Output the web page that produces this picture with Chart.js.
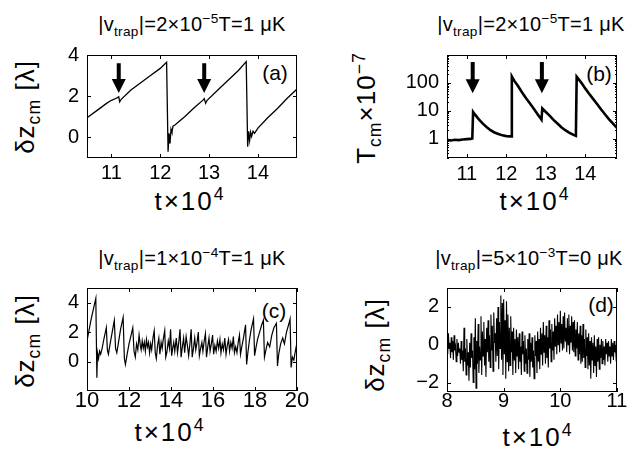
<!DOCTYPE html>
<html>
<head>
<meta charset="utf-8">
<script src="https://cdn.jsdelivr.net/npm/chart.js@4.4.1/dist/chart.umd.min.js"></script>
<style>
body { margin:0; background:#fff; width:633px; height:454px; position:relative; overflow:hidden; font-family:"Liberation Sans", Arial, sans-serif; }
.box { position:absolute; }
.lbl { position:absolute; transform:translate(-50%,-50%); white-space:nowrap; color:#000; line-height:1; }
.ttl { font-size:20px; letter-spacing:0.3px; }
.xl { font-size:26px; letter-spacing:2px; }
.yl { font-size:26px; letter-spacing:1px; }
.rot { transform:translate(-50%,-50%) rotate(-90deg); }
sub, sup { font-size:68%; line-height:0; }
</style>
</head>
<body>

<div class="lbl ttl" style="left:192px;top:24px">|v<sub>trap</sub>|=2×10<sup>−5</sup>T=1 μK</div>
<div class="lbl ttl" style="left:531px;top:24px">|v<sub>trap</sub>|=2×10<sup>−5</sup>T=1 μK</div>
<div class="lbl ttl" style="left:192px;top:258px">|v<sub>trap</sub>|=1×10<sup>−4</sup>T=1 μK</div>
<div class="lbl ttl" style="left:529px;top:258px">|v<sub>trap</sub>|=5×10<sup>−3</sup>T=0 μK</div>

<div class="lbl xl" style="left:190px;top:201px">t×10<sup>4</sup></div>
<div class="lbl xl" style="left:535px;top:201px">t×10<sup>4</sup></div>
<div class="lbl xl" style="left:170px;top:432px">t×10<sup>4</sup></div>
<div class="lbl xl" style="left:538px;top:437px">t×10<sup>4</sup></div>

<div class="lbl yl rot" style="left:25px;top:107px">δz<sub>cm</sub> [λ]</div>
<div class="lbl yl rot" style="left:366px;top:108px">T<sub>cm</sub>×10<sup>−7</sup></div>
<div class="lbl yl rot" style="left:25px;top:341px">δz<sub>cm</sub> [λ]</div>
<div class="lbl yl rot" style="left:375px;top:345px">δz<sub>cm</sub> [λ]</div>

<div class="lbl" style="left:275px;top:72px;font-size:21px">(a)</div>
<div class="lbl" style="left:599px;top:73px;font-size:21px">(b)</div>
<div class="lbl" style="left:274px;top:310px;font-size:21px">(c)</div>
<div class="lbl" style="left:601px;top:304px;font-size:21px">(d)</div>

<script>
// (a) displacement, t in units of 1e4
var aT = [10.5, 10.7, 10.9, 11.0, 11.1, 11.15, 11.17, 11.2, 11.4, 11.6, 11.8, 12.0, 12.13,
          12.16, 12.18, 12.2, 12.22, 12.24, 12.26, 12.3, 12.5, 12.7, 12.88, 12.9, 12.93, 12.96,
          13.2, 13.4, 13.6, 13.76, 13.79, 13.81, 13.83, 13.85, 13.87, 13.9, 13.93, 14.0,
          14.2, 14.4, 14.6, 14.8];
var aZ = [0.95, 1.3, 1.65, 1.8, 1.9, 1.97, 1.72, 1.85, 2.3, 2.65, 3.0, 3.35, 3.65,
          -0.7, 0.2, -0.3, 0.4, 0.25, 0.55, 0.6, 1.0, 1.45, 1.82, 1.88, 1.66, 1.8,
          2.35, 2.8, 3.25, 3.68, -0.45, 0.3, -0.15, 0.25, 0.05, 0.3, 0.2, 0.45,
          0.95, 1.4, 1.9, 2.35];

// (b) T_cm x 1e-7, log axis
var bT = [10.5, 10.6, 10.7, 10.8, 10.9, 11.0, 11.1, 11.14, 11.16, 11.2, 11.3, 11.4, 11.5, 11.6,
          11.7, 11.8, 11.9, 12.0, 12.12, 12.14, 12.2, 12.3, 12.4, 12.5, 12.6, 12.7, 12.8, 12.89,
          12.91, 13.0, 13.1, 13.2, 13.3, 13.4, 13.5, 13.6, 13.7, 13.76, 13.78, 13.9, 14.0, 14.1,
          14.2, 14.3, 14.4, 14.5, 14.6, 14.7, 14.8];
var bTemp = [0.9, 0.85, 0.9, 0.88, 0.92, 0.95, 0.97, 1.0, 9, 7.5, 5, 3.5, 2.6, 2.0,
             1.65, 1.45, 1.3, 1.22, 1.2, 170, 120, 75, 45, 28, 18, 11.5, 7.2, 4.8,
             12, 9, 6.5, 4.6, 3.4, 2.5, 1.95, 1.6, 1.35, 1.25, 165, 100, 62, 40,
             26, 17, 11, 7.3, 4.9, 3.4, 2.4];

// (c)
var cT = [10.0, 10.2, 10.42, 10.47, 10.5, 10.55, 10.6, 10.65, 10.72, 10.8, 10.92, 10.97, 11.02,
          11.1, 11.2, 11.3, 11.36, 11.42, 11.5, 11.6, 11.72, 11.78, 11.83, 11.9, 12.0, 12.1,
          12.18, 12.24, 12.3, 12.36, 12.42, 12.48, 12.54, 12.58, 12.63, 12.68, 12.73, 12.78,
          12.83, 12.88, 12.93, 12.98, 13.03, 13.08, 13.14, 13.2, 13.25, 13.3, 13.36, 13.42,
          13.47, 13.53, 13.58, 13.63, 13.7, 13.75, 13.8, 13.87, 13.93, 13.98, 14.03, 14.08,
          14.13, 14.18, 14.25, 14.31, 14.37, 14.43, 14.48, 14.54, 14.6, 14.65, 14.72, 14.78,
          14.84, 14.9, 14.96, 15.01, 15.07, 15.13, 15.18, 15.24, 15.3, 15.35, 15.41, 15.47,
          15.52, 15.58, 15.64, 15.69, 15.75, 15.81, 15.86, 15.92, 15.98, 16.03, 16.09, 16.15,
          16.21, 16.27, 16.33, 16.38, 16.44, 16.5, 16.56, 16.62, 16.68, 16.74, 16.79, 16.85,
          16.91, 16.97, 17.02, 17.08, 17.14, 17.2, 17.26, 17.31, 17.37, 17.45, 17.55, 17.6,
          17.66, 17.74, 17.82, 17.93, 17.98, 18.04, 18.12, 18.22, 18.32, 18.4, 18.45, 18.52,
          18.6, 18.7, 18.8, 18.9, 19.02, 19.07, 19.13, 19.22, 19.32, 19.4, 19.5, 19.6,
          19.67, 19.72, 19.78, 19.85, 19.92, 20.0];
var cZ = [1.4, 2.9, 4.3, -1.1, 0.6, 0.2, 0.7, 0.5, 0.9, 1.5, 2.3, 0.8, 0.5,
          1.2, 2.0, 2.8, 0.9, 0.6, 1.3, 2.2, 3.0, 0.2, -0.2, 0.4, 1.2, 1.8,
          2.3, 0.7, 0.3, 1.2, 0.8, 1.8, 1.1, 0.8, 1.4, 0.9, 1.3, 0.7,
          1.5, 1.0, 1.3, 0.6, 1.2, 0.8, 1.6, 2.1, 0.6, 0.2, 1.1, 1.6,
          0.5, 1.3, 0.9, 1.5, 2.1, 0.3, 0.6, 1.4, 0.9, 2.2, 0.4, 0.9,
          1.3, 0.7, 1.6, 0.6, 1.3, 2.2, 0.3, 1.0, 1.6, 0.6, 1.7, 1.1,
          0.4, 1.2, 2.2, 0.3, 0.9, 1.6, 0.8, 1.3, 2.0, 0.4, 0.9, 1.3,
          0.7, 1.4, 1.9, 0.3, 1.0, 1.6, 0.7, 1.2, 1.8, 0.5, 1.1, 0.7,
          1.4, 0.9, 1.5, 0.6, 1.2, 0.8, 1.6, 0.5, 1.1, 1.5, 0.7, 1.3,
          0.9, 1.7, 0.6, 1.0, 0.6, 1.3, 1.8, 0.5, 1.0, 1.6, 2.5, -0.2,
          0.6, 1.5, 2.2, 2.9, 0.4, 0.9, 1.5, 2.0, 2.5, 2.8, 0.3, 0.8,
          1.3, 1.0, 1.8, 2.3, 2.6, -0.3, 0.5, 1.2, 1.6, 1.2, 2.0, 2.5,
          2.9, -0.4, 0.3, 0.1, 0.7, 1.3];

// (d) sampled every 0.0125 from t=8
var dStart = 8, dStep = 0.0125;
var dZ = [
  0.3, -0.5, 0.6, -0.2, 0.1, -0.7, 0.4, -0.4, 0.2, -0.8,
  0.5, -0.3, -0.1, -0.9, 0.3, -0.6, 0.1, -0.4, -0.2, -1.0,
  0.2, -0.8, -0.3, -1.4, 0.9, -0.9, -0.2, -1.6, 0.3, -1.1,
  -0.4, -1.9, 0.1, -1.2, 0.6, -0.7, -0.3, -2.0, 0.4, -1.3,
  1.4, -2.3, 0.2, -1.0, 1.1, -1.5, -0.1, -0.8, 1.5, -1.6,
  0.7, -0.6, 1.2, -1.1, 0.3, -1.7, 0.9, -0.4, 1.3, -0.9,
  0.5, -1.2, 1.6, -0.3, 1.0, -1.4, 1.7, 0.1, 0.6, -0.9,
  1.4, -0.6, 2.0, -1.3, 1.2, -0.2, 2.6, -0.8, 2.2, -1.6,
  2.4, -0.5, 1.3, -1.8, 2.3, -0.9, 1.6, -1.4, 0.9, -1.1,
  1.5, -0.4, 0.7, -1.6, 0.9, -0.8, 0.3, -1.5, 0.8, -0.6,
  0.4, -1.3, 0.6, -0.9, -0.1, -1.6, 0.7, -0.5, 0.2, -1.4,
  0.5, -1.0, -0.2, -1.5, 0.3, -0.8, 0.6, -1.7, 0.1, -0.9,
  0.4, -1.2, -0.3, -1.8, 0.5, -0.6, 0.2, -1.5, 0.7, -0.9,
  0.3, -1.3, 0.9, -0.5, 0.6, -1.1, 1.2, -0.4, 0.5, -1.0,
  1.0, -0.7, 0.4, -1.2, 1.3, -0.2, 0.8, -0.9, 1.1, -0.3,
  0.7, -0.8, 1.4, -0.1, 1.0, -0.5, 1.6, 0.0, 1.2, -0.4,
  1.8, 0.1, 1.1, -0.3, 1.5, -0.2, 1.7, 0.2, 0.9, -0.4,
  1.4, 0.0, 1.6, -0.5, 1.0, 0.1, 1.5, -0.3, 1.2, -0.4,
  1.3, -0.6, 0.8, -0.2, 1.2, -0.8, 0.6, -0.5, 1.0, -1.0,
  0.5, -0.9, 1.1, -0.7, 0.3, -1.2, 0.8, -0.6, 0.4, -1.3,
  0.6, -1.1, 0.2, -1.8, 0.4, -0.8, 0.1, -1.5, 0.5, -1.1,
  -0.1, -1.7, 0.3, -0.9, 0.4, -1.3, 0.0, -0.7, 0.3, -1.0,
  0.2, -0.8, -0.1, -1.1, 0.3, -0.5, 0.1, -0.9, 0.2, -0.6,
  -0.1, -1.0, 0.3, -0.6, 0.1, -0.8, 0.2, -0.4, -0.2, -0.9,
  -0.3];

// tick values
var abXTicks = [11, 12, 13, 14];
var aYTicks = [0, 2, 4];
var bYTicks = [1, 10, 100];
var cXTicks = [10, 12, 14, 16, 18, 20];
var cYTicks = [0, 2, 4];
var dXTicks = [8, 9, 10, 11];
var dYTicks = [-2, 0, 2];

// arrows (t position, top, tip) for (a) and (b)
var arrowT = [11.15, 12.9];
var aArrowTop = 3.6, aArrowTip = 2.15;
var bArrowTop = 560, bArrowTip = 42;

function pairs(xs, ys) {
  var out = [];
  for (var i = 0; i < xs.length; i++) out.push({x: xs[i], y: ys[i]});
  return out;
}
var dPts = [];
for (var i = 0; i < dZ.length; i++) dPts.push({x: dStart + i * dStep, y: dZ[i]});

// box, inside ticks, arrows
var frame = {
  id: 'frame',
  afterDatasetsDraw: function(chart, args, o) {
    var ctx = chart.ctx, a = chart.chartArea, xs = chart.scales.x, ys = chart.scales.y;
    ctx.save();
    ctx.strokeStyle = '#000';
    ctx.lineWidth = 1;
    ctx.strokeRect(Math.round(a.left) + 0.5, Math.round(a.top) + 0.5,
                   Math.round(a.right - a.left) - 1, Math.round(a.bottom - a.top) - 1);
    ctx.beginPath();
    xs.ticks.forEach(function(t) {
      var p = Math.round(xs.getPixelForValue(t.value)) + 0.5;
      ctx.moveTo(p, a.bottom); ctx.lineTo(p, a.bottom - 4);
      ctx.moveTo(p, a.top); ctx.lineTo(p, a.top + 4);
    });
    ys.ticks.forEach(function(t) {
      var p = Math.round(ys.getPixelForValue(t.value)) + 0.5;
      ctx.moveTo(a.left, p); ctx.lineTo(a.left + 4, p);
      ctx.moveTo(a.right, p); ctx.lineTo(a.right - 4, p);
    });
    if (ys.type === 'logarithmic') {
      for (var d = 0.1; d <= 1000; d *= 10) {
        for (var m = 2; m <= 9; m++) {
          var v = d * m;
          if (v < ys.min || v > ys.max) continue;
          var p = Math.round(ys.getPixelForValue(v)) + 0.5;
          ctx.moveTo(a.left, p); ctx.lineTo(a.left + 2, p);
          ctx.moveTo(a.right, p); ctx.lineTo(a.right - 2, p);
        }
      }
    }
    ctx.stroke();
    if (o.arrows) {
      ctx.fillStyle = '#000';
      o.arrows.t.forEach(function(t) {
        var x = xs.getPixelForValue(t);
        var y0 = ys.getPixelForValue(o.arrows.top);
        var y1 = ys.getPixelForValue(o.arrows.tip);
        var hh = 14, hw = 7;
        ctx.fillRect(x - 2, y0, 4, y1 - y0 - hh + 1);
        ctx.beginPath();
        ctx.moveTo(x - hw, y1 - hh);
        ctx.lineTo(x + hw, y1 - hh);
        ctx.lineTo(x, y1);
        ctx.closePath();
        ctx.fill();
      });
    }
    ctx.restore();
  }
};

function minus(v) { return String(v).replace('-', '\u2212'); }

function makePanel(box, pts, xr, yr, xTicks, yTicks, xFont, xPad, lw, logY, arrows) {
  var div = document.createElement('div');
  div.className = 'box';
  div.style.left = (box[0] - 80) + 'px';
  div.style.top = (box[1] - 15) + 'px';
  div.style.width = (box[2] + 100) + 'px';
  div.style.height = (box[3] + 55) + 'px';
  var canvas = document.createElement('canvas');
  div.appendChild(canvas);
  document.body.appendChild(div);
  return new Chart(canvas.getContext('2d'), {
    type: 'line',
    data: { datasets: [{ data: pts, borderColor: '#000', borderWidth: lw, pointRadius: 0, tension: 0, fill: false }] },
    options: {
      responsive: true, maintainAspectRatio: false, animation: false,
      layout: { padding: { left: 0, top: 15, right: 20, bottom: 0 } },
      plugins: { legend: { display: false }, tooltip: { enabled: false }, frame: { arrows: arrows } },
      scales: {
        x: {
          type: 'linear', min: xr[0], max: xr[1],
          grid: { display: false, drawTicks: false }, border: { display: false },
          afterBuildTicks: function(ax) { ax.ticks = xTicks.map(function(v) { return {value: v}; }); },
          afterFit: function(ax) { ax.height = 40; ax.paddingLeft = 0; ax.paddingRight = 0; },
          ticks: { color: '#000', padding: xPad, maxRotation: 0, autoSkip: false, font: { family: 'Liberation Sans', size: xFont }, callback: function(v) { return minus(v); } }
        },
        y: {
          type: logY ? 'logarithmic' : 'linear', min: yr[0], max: yr[1],
          grid: { display: false, drawTicks: false }, border: { display: false },
          afterBuildTicks: function(ax) { ax.ticks = yTicks.map(function(v) { return {value: v}; }); },
          afterFit: function(ax) { ax.width = 80; ax.paddingTop = 0; ax.paddingBottom = 0; },
          ticks: { color: '#000', padding: 8, autoSkip: false, font: { family: 'Liberation Sans', size: 20 }, callback: function(v) { return minus(v); } }
        }
      }
    },
    plugins: [frame]
  });
}

// box = [left, top, width, height] of the axes area
makePanel([87, 55, 210, 103], pairs(aT, aZ), [10.5, 14.8], [-1, 4], abXTicks, aYTicks, 20, 3, 1.3, false,
          {t: arrowT, top: aArrowTop, tip: aArrowTip});
makePanel([447, 55, 170, 103], pairs(bT, bTemp), [10.5, 14.8], [0.2, 1000], abXTicks, bYTicks, 20, 4, 2.6, true,
          {t: arrowT, top: bArrowTop, tip: bArrowTip});
makePanel([87, 288, 210, 103], pairs(cT, cZ), [10, 20], [-2, 5], cXTicks, cYTicks, 22, -3, 1.2, false, null);
makePanel([447, 288, 170, 104], dPts, [8, 11], [-2.5, 3], dXTicks, dYTicks, 20, -3, 1.1, false, null);
</script>
</body>
</html>
